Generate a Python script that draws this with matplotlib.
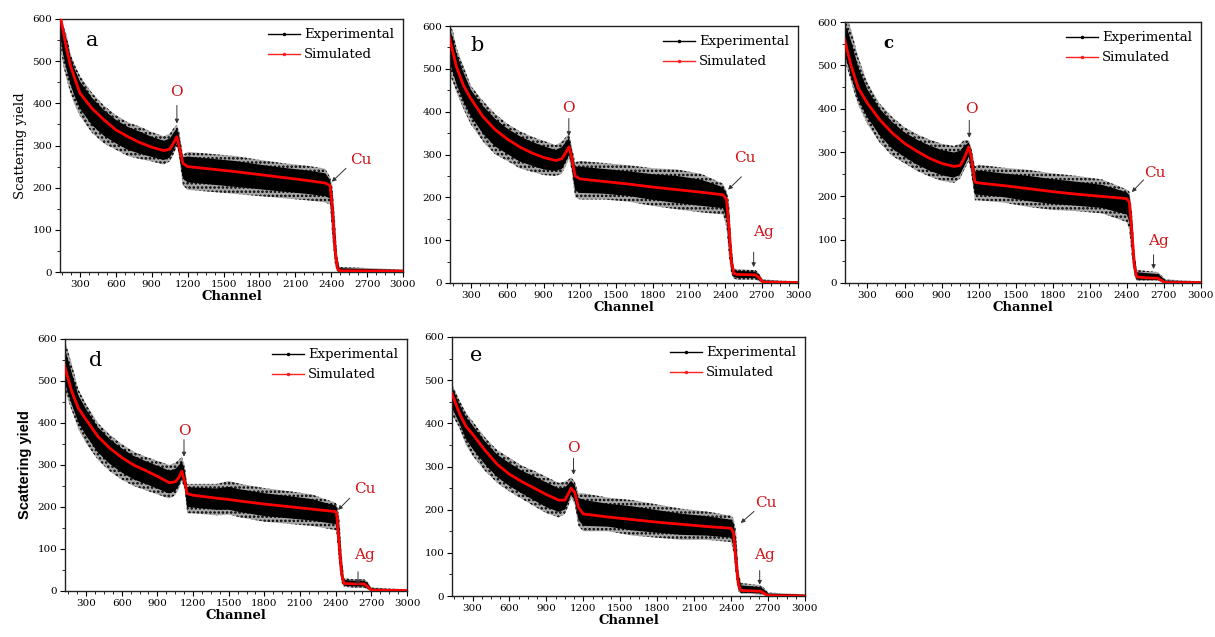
import matplotlib
matplotlib.use("Agg")
import matplotlib.pyplot as plt
from matplotlib.ticker import AutoMinorLocator
from matplotlib.lines import Line2D
import numpy as np

# ---- RBS spectra: channel knots, simulated yield, experimental scatter envelope ----
ch_a  = [120, 140, 160, 190, 220, 250, 300, 400, 500, 600, 700, 800, 900, 1000, 1050, 1080, 1110, 1130, 1160, 1200,
         1400, 1600, 1800, 2000, 2200, 2350, 2390, 2410, 2430, 2450, 2470, 3000]
sim_a = [640, 600, 570, 527, 490, 464, 424, 388, 361, 337, 321, 307, 296, 288, 291, 305, 321, 297, 258, 250,
         244, 238, 231, 224, 217, 211, 205, 150, 60, 10, 3, 2]
lo_a  = [560, 530, 490, 455, 425, 400, 370, 330, 305, 290, 275, 268, 262, 255, 262, 278, 298, 270, 205, 195,
         190, 185, 180, 175, 170, 165, 160, 80, 20, 0, 0, 0]
hi_a  = [680, 610, 585, 560, 520, 495, 465, 425, 395, 372, 355, 345, 332, 322, 328, 340, 350, 332, 278, 285,
         280, 275, 266, 258, 252, 245, 225, 205, 130, 40, 12, 6]

ch_b  = [120, 150, 180, 240, 300, 400, 500, 600, 700, 800, 900, 1000, 1050, 1080, 1110, 1130, 1160, 1200, 1400,
         1600, 1800, 2000, 2200, 2380, 2410, 2430, 2450, 2470, 2500, 2650, 2680, 2710, 3000]
sim_b = [575, 540, 505, 460, 430, 388, 358, 336, 318, 304, 293, 286, 290, 303, 318, 295, 250, 243, 237,
         231, 224, 218, 212, 206, 195, 130, 50, 22, 20, 19, 12, 2, 1]
lo_b  = [490, 470, 445, 405, 370, 330, 300, 285, 268, 260, 252, 250, 255, 272, 290, 265, 200, 195, 195,
         190, 180, 172, 165, 160, 130, 60, 20, 10, 8, 8, 3, 0, 0]
hi_b  = [600, 590, 550, 505, 460, 425, 395, 372, 355, 342, 332, 322, 330, 340, 348, 322, 282, 285, 280,
         275, 268, 265, 255, 232, 215, 190, 95, 35, 32, 30, 22, 8, 4]

ch_c  = [115, 140, 170, 224, 300, 400, 500, 600, 700, 800, 900, 1000, 1050, 1080, 1120, 1140, 1170, 1200, 1400,
         1600, 1800, 2000, 2200, 2400, 2420, 2440, 2460, 2480, 2550, 2650, 2680, 2710, 3000]
sim_c = [560, 530, 497, 449, 413, 375, 345, 321, 303, 287, 275, 268, 270, 285, 313, 290, 232, 230, 224,
         217, 210, 204, 199, 194, 185, 120, 40, 14, 12, 11, 6, 1, 1]
lo_c  = [510, 490, 460, 410, 365, 322, 292, 275, 258, 245, 235, 230, 240, 258, 280, 250, 190, 190, 185,
         175, 168, 165, 160, 140, 120, 60, 18, 5, 5, 5, 2, 0, 0]
hi_c  = [610, 605, 580, 520, 460, 412, 382, 358, 342, 330, 320, 315, 320, 328, 328, 312, 268, 272, 265,
         260, 252, 246, 238, 215, 210, 170, 80, 30, 28, 25, 18, 8, 4]

ch_d  = [115, 130, 180, 236, 300, 400, 500, 600, 700, 800, 900, 1000, 1050, 1080, 1105, 1130, 1150, 1200, 1400,
         1500, 1600, 1800, 2000, 2200, 2400, 2410, 2430, 2450, 2470, 2550, 2640, 2670, 2700, 3000]
sim_d = [540, 525, 475, 435, 408, 368, 340, 318, 300, 287, 273, 258, 260, 270, 285, 260, 232, 228, 221,
         218, 214, 207, 201, 195, 189, 180, 110, 40, 18, 17, 17, 10, 2, 1]
lo_d  = [480, 470, 430, 385, 352, 312, 285, 265, 250, 240, 230, 220, 228, 242, 262, 242, 185, 185, 180,
         182, 175, 165, 160, 155, 145, 130, 60, 20, 10, 8, 8, 3, 0, 0]
hi_d  = [600, 590, 540, 480, 445, 400, 372, 350, 332, 320, 310, 300, 305, 312, 320, 300, 255, 255, 255,
         262, 255, 245, 238, 230, 210, 205, 180, 90, 30, 28, 28, 22, 8, 4]

ch_e  = [130, 143, 192, 246, 300, 400, 500, 600, 700, 800, 900, 1000, 1050, 1080, 1100, 1130, 1160, 1200, 1400,
         1600, 1800, 2000, 2200, 2400, 2420, 2440, 2460, 2480, 2550, 2640, 2670, 2700, 3000]
sim_e = [470, 461, 424, 393, 375, 338, 305, 282, 265, 250, 235, 222, 222, 238, 250, 240, 205, 190, 183,
         177, 171, 166, 161, 157, 145, 80, 25, 13, 12, 11, 6, 1, 0]
lo_e  = [420, 415, 390, 350, 325, 290, 262, 242, 225, 208, 192, 182, 190, 210, 228, 212, 162, 150, 150,
         140, 135, 130, 130, 125, 100, 40, 10, 5, 5, 3, 2, 0, 0]
hi_e  = [495, 485, 455, 425, 405, 368, 338, 320, 302, 290, 276, 262, 265, 270, 275, 265, 238, 238, 228,
         222, 212, 202, 196, 186, 180, 150, 60, 30, 28, 25, 18, 8, 4]

panel_letters = ["a", "b", "c", "d", "e"]
x_ticks = [300, 600, 900, 1200, 1500, 1800, 2100, 2400, 2700, 3000]
y_ticks = [0, 100, 200, 300, 400, 500, 600]

SERIF = "DejaVu Serif"
RED_TXT = "#d0161b"
W, H = 1215, 637

def box(l, r, t, b):
    return [l / W, (H - b) / H, (r - l) / W, (b - t) / H]

# (axes box, x-left limit, letter position, ylabel style, annotations)
layout = [
    (box(60, 403, 19, 272), 133, (400, 548), "serif",
     [("O", (1110, 428), (1110, 395), (1110, 352)),
      ("Cu", (2649, 265), (2524, 246), (2405, 214))]),
    (box(450, 798, 26, 283), 127, (350, 555), None,
     [("O", (1108, 408), (1108, 384), (1108, 343)),
      ("Cu", (2560, 291), (2533, 248), (2423, 218)),
      ("Ag", (2711, 119), (2634, 72), (2634, 37))]),
    (box(845, 1201, 22, 283), 118, (468, 550), None,
     [("O", (1140, 401), (1124, 374), (1124, 334)),
      ("Cu", (2630, 252), (2535, 237), (2440, 209)),
      ("Ag", (2657, 96), (2616, 65), (2616, 32))]),
    (box(65, 407, 339, 591), 123, (379, 550), "sans",
     [("O", (1124, 380), (1124, 360), (1124, 320)),
      ("Cu", (2644, 242), (2518, 221), (2420, 193)),
      ("Ag", (2644, 86), (2588, 46), (2588, 14))]),
    (box(452, 805, 337, 596), 133, (330, 558), None,
     [("O", (1120, 342), (1120, 319), (1120, 281)),
      ("Cu", (2681, 216), (2586, 196), (2478, 169)),
      ("Ag", (2673, 95), (2632, 59), (2632, 26))]),
]

spectra = [(ch_a, sim_a, lo_a, hi_a), (ch_b, sim_b, lo_b, hi_b), (ch_c, sim_c, lo_c, hi_c),
           (ch_d, sim_d, lo_d, hi_d), (ch_e, sim_e, lo_e, hi_e)]

plt.rcParams["hatch.linewidth"] = 1.2
fig = plt.figure(figsize=(W / 100, H / 100), dpi=100)

for letter, (ch, sim, lo, hi), (rect, xl, lpos, ylab, notes) in zip(panel_letters, spectra, layout):
    ax = fig.add_axes(rect)
    ch = np.asarray(ch, float)
    sim = np.asarray(sim, float)
    lo = np.asarray(lo, float)
    hi = np.asarray(hi, float)

    # experimental counts: sparse outer scatter plus dense core around the fit
    ax.fill_between(ch, lo, hi, facecolor="#a8a8a8", edgecolor="none", zorder=1)
    ax.fill_between(ch, lo, hi, facecolor="none", edgecolor="black", hatch="....",
                    linewidth=0, zorder=1.5)
    core_lo = sim - 0.68 * (sim - lo)
    core_hi = sim + 0.68 * (hi - sim)
    ax.fill_between(ch, core_lo, core_hi, facecolor="black", edgecolor="none", zorder=2)
    # simulated spectrum
    ax.plot(ch, sim, color="#ff0000", lw=2.0, zorder=3, solid_joinstyle="round")

    ax.set_xlim(xl, 3000)
    ax.set_ylim(0, 600)
    ax.set_xticks(x_ticks)
    ax.set_yticks(y_ticks)
    ax.xaxis.set_minor_locator(AutoMinorLocator(4))
    ax.yaxis.set_minor_locator(AutoMinorLocator(2))
    ax.tick_params(which="both", direction="out", top=False, right=False, labelsize=7.5, pad=2)
    ax.tick_params(which="major", length=3.5, width=0.8)
    ax.tick_params(which="minor", length=2, width=0.6)
    for lab in ax.get_xticklabels() + ax.get_yticklabels():
        lab.set_fontfamily(SERIF)
    for sp in ax.spines.values():
        sp.set_linewidth(1.0)
        sp.set_color("#222222")

    ax.set_xlabel("Channel", fontfamily=SERIF, fontweight="bold", fontsize=9.5, labelpad=1)
    if ylab == "serif":
        ax.set_ylabel("Scattering yield", fontfamily=SERIF, fontsize=9.5, labelpad=4)
    elif ylab == "sans":
        ax.set_ylabel("Scattering yield", fontfamily="Liberation Sans", fontweight="bold",
                      fontsize=10.5, labelpad=4)

    ax.text(lpos[0], lpos[1], letter, fontfamily=SERIF, fontsize=15 if letter != "c" else 12,
            fontweight="bold" if letter == "c" else "normal", ha="center", va="center", zorder=5)

    for txt, tpos, a0, a1 in notes:
        ax.text(tpos[0], tpos[1], txt, color=RED_TXT, fontfamily=SERIF, fontsize=11,
                ha="center", va="center", zorder=6)
        ax.annotate("", xy=a1, xytext=a0, zorder=6,
                    arrowprops=dict(arrowstyle="-|>", color="#333333", lw=0.7, mutation_scale=6,
                                    shrinkA=0, shrinkB=0))

    handles = [Line2D([], [], color="black", lw=1.0, marker="o", markersize=1.5),
               Line2D([], [], color="#ff2020", lw=1.0, marker="o", markersize=1.5)]
    ax.legend(handles, ["Experimental", "Simulated"], loc="upper right", frameon=False,
              prop={"family": SERIF, "size": 9.5}, handlelength=2.4, handletextpad=0.3,
              labelspacing=0.55, borderaxespad=0.6, borderpad=0.1)

fig.savefig("out.png", dpi=100, facecolor="white")
